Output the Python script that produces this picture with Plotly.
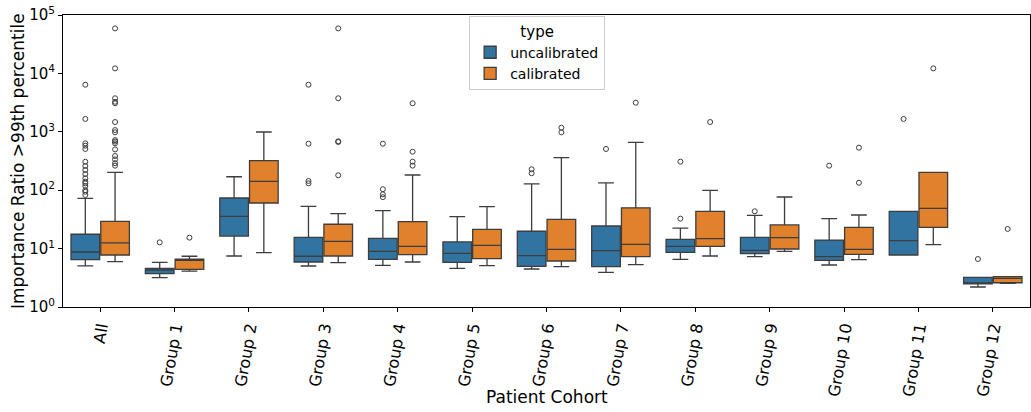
import plotly.graph_objects as go

categories = ["All", "Group 1", "Group 2", "Group 3", "Group 4", "Group 5", "Group 6",
              "Group 7", "Group 8", "Group 9", "Group 10", "Group 11", "Group 12"]

# uncalibrated box statistics
unc_lo = [5.05, 3.18, 7.47, 5.04, 5.17, 4.6, 4.47, 3.93, 6.55, 7.27, 5.24, 7.77, 2.2]
unc_q1 = [6.45, 3.72, 16.4, 5.9, 6.55, 5.82, 4.98, 4.9, 8.64, 8.2, 6.3, 7.77, 2.48]
unc_med = [8.75, 4.3, 35.7, 7.4, 8.98, 8.3, 7.56, 9.2, 10.9, 9.34, 7.27, 13.7, 2.55]
unc_q3 = [17.6, 4.6, 73.5, 15.6, 15.0, 13.0, 19.8, 24.4, 14.4, 15.6, 14.0, 43.5, 3.22]
unc_hi = [72.6, 5.8, 170, 53, 44.6, 35.2, 128, 134, 22.5, 37.2, 32.6, 43.5, 3.22]
unc_out = [
    [6400, 1660, 635, 578, 508, 307, 260, 222, 189, 160, 140, 131, 118, 100, 94, 83],
    [12.8], [], [6400, 625, 144, 131], [625, 104, 85, 76], [], [228, 195], [508],
    [308, 32.6], [43.5], [263], [1660], [6.64],
]

# calibrated box statistics
cal_lo = [5.97, 4.13, 8.5, 5.74, 5.9, 5.1, 4.9, 5.3, 7.47, 8.98, 6.45, 11.7, 2.55]
cal_q1 = [7.77, 4.42, 60.4, 7.47, 7.87, 6.72, 6.13, 7.27, 10.9, 9.84, 7.98, 23.1, 2.6]
cal_med = [12.5, 6.3, 142, 13.3, 10.9, 11.4, 9.73, 11.8, 14.8, 15.4, 9.73, 49, 3.1]
cal_q3 = [29.3, 6.6, 320, 26.1, 28.9, 21.4, 31.7, 50, 43.5, 25.4, 23.1, 202, 3.3]
cal_hi = [202, 7.4, 992, 39.6, 182, 52.2, 360, 661, 99.6, 76.5, 37.6, 202, 3.3]
cal_out = [
    [59000, 12200, 3750, 3270, 3080, 1470, 1070, 980, 720, 680, 635, 500, 385, 337, 290, 263],
    [15.4], [], [59000, 3750, 688, 669, 180], [3080, 456, 308, 263], [], [1175, 980], [3150],
    [1470], [], [535, 134], [12200], [21.7],
]

ytick_vals = [1, 10, 100, 1000, 10000, 100000]
ytick_text = ["10<sup>%d</sup>" % i for i in range(6)]

series = [
    ("uncalibrated", -0.2, "#3274a1", unc_lo, unc_q1, unc_med, unc_q3, unc_hi, unc_out),
    ("calibrated", 0.2, "#e1812c", cal_lo, cal_q1, cal_med, cal_q3, cal_hi, cal_out),
]

line_col = "#3d3d3d"
fig = go.Figure()
for name, off, col, lo, q1, med, q3, hi, outs in series:
    xs = [i + off for i in range(len(categories))]
    fig.add_trace(go.Box(
        name=name, x=xs, q1=q1, median=med, q3=q3, lowerfence=lo, upperfence=hi,
        width=0.385, whiskerwidth=0.55, fillcolor=col,
        line=dict(color=line_col, width=1.3), boxpoints=False,
    ))
for name, off, col, lo, q1, med, q3, hi, outs in series:
    ox, oy = [], []
    for i, vals in enumerate(outs):
        for v in vals:
            ox.append(i + off)
            oy.append(v)
    fig.add_trace(go.Scatter(
        x=ox, y=oy, mode="markers", showlegend=False,
        marker=dict(symbol="circle-open", size=5, color=line_col, line=dict(width=1)),
    ))

font = "DejaVu Sans"
fig.update_layout(
    width=1031, height=412,
    margin=dict(l=63, r=1, t=15, b=105),
    plot_bgcolor="white", paper_bgcolor="white",
    font=dict(family=font, size=15, color="black"),
    boxmode="overlay",
    showlegend=True,
    legend=dict(
        title=dict(text="type", side="top center", font=dict(size=15)),
        x=0.42, y=0.996, xanchor="left", yanchor="top",
        bgcolor="rgba(255,255,255,0.85)", bordercolor="#cccccc", borderwidth=1,
        font=dict(size=14), tracegroupgap=0, itemwidth=30,
    ),
    xaxis=dict(
        range=[-0.5, len(categories) - 0.5],
        tickvals=list(range(len(categories))), ticktext=categories,
        tickangle=-80, ticks="outside", ticklen=4, tickcolor="black",
        showline=True, linecolor="black", linewidth=1, mirror=True,
        showgrid=False, zeroline=False, automargin=False,
        tickfont=dict(size=16),
    ),
    yaxis=dict(
        type="log", range=[0, 5],
        tickvals=ytick_vals, ticktext=ytick_text,
        ticks="outside", ticklen=4, tickcolor="black",
        showline=True, linecolor="black", linewidth=1, mirror=True,
        showgrid=False, zeroline=False, automargin=False,
        ticklabeloverflow="allow",
        tickfont=dict(size=15),
    ),
    annotations=[
        dict(text="Patient Cohort", xref="paper", yref="paper", x=0.5, y=0,
             yshift=-90, xanchor="center", yanchor="middle", showarrow=False,
             font=dict(size=17)),
        dict(text="Importance Ratio >99th percentile", xref="paper", yref="paper",
             x=0, y=0.5, xshift=-45, xanchor="center", yanchor="middle",
             textangle=-90, showarrow=False, font=dict(size=17)),
    ],
)

# remove the default 8px page margin so the figure fills the window exactly
fig.write_html("out.html", config={"displayModeBar": False},
               post_script="document.body.style.margin='0';")
